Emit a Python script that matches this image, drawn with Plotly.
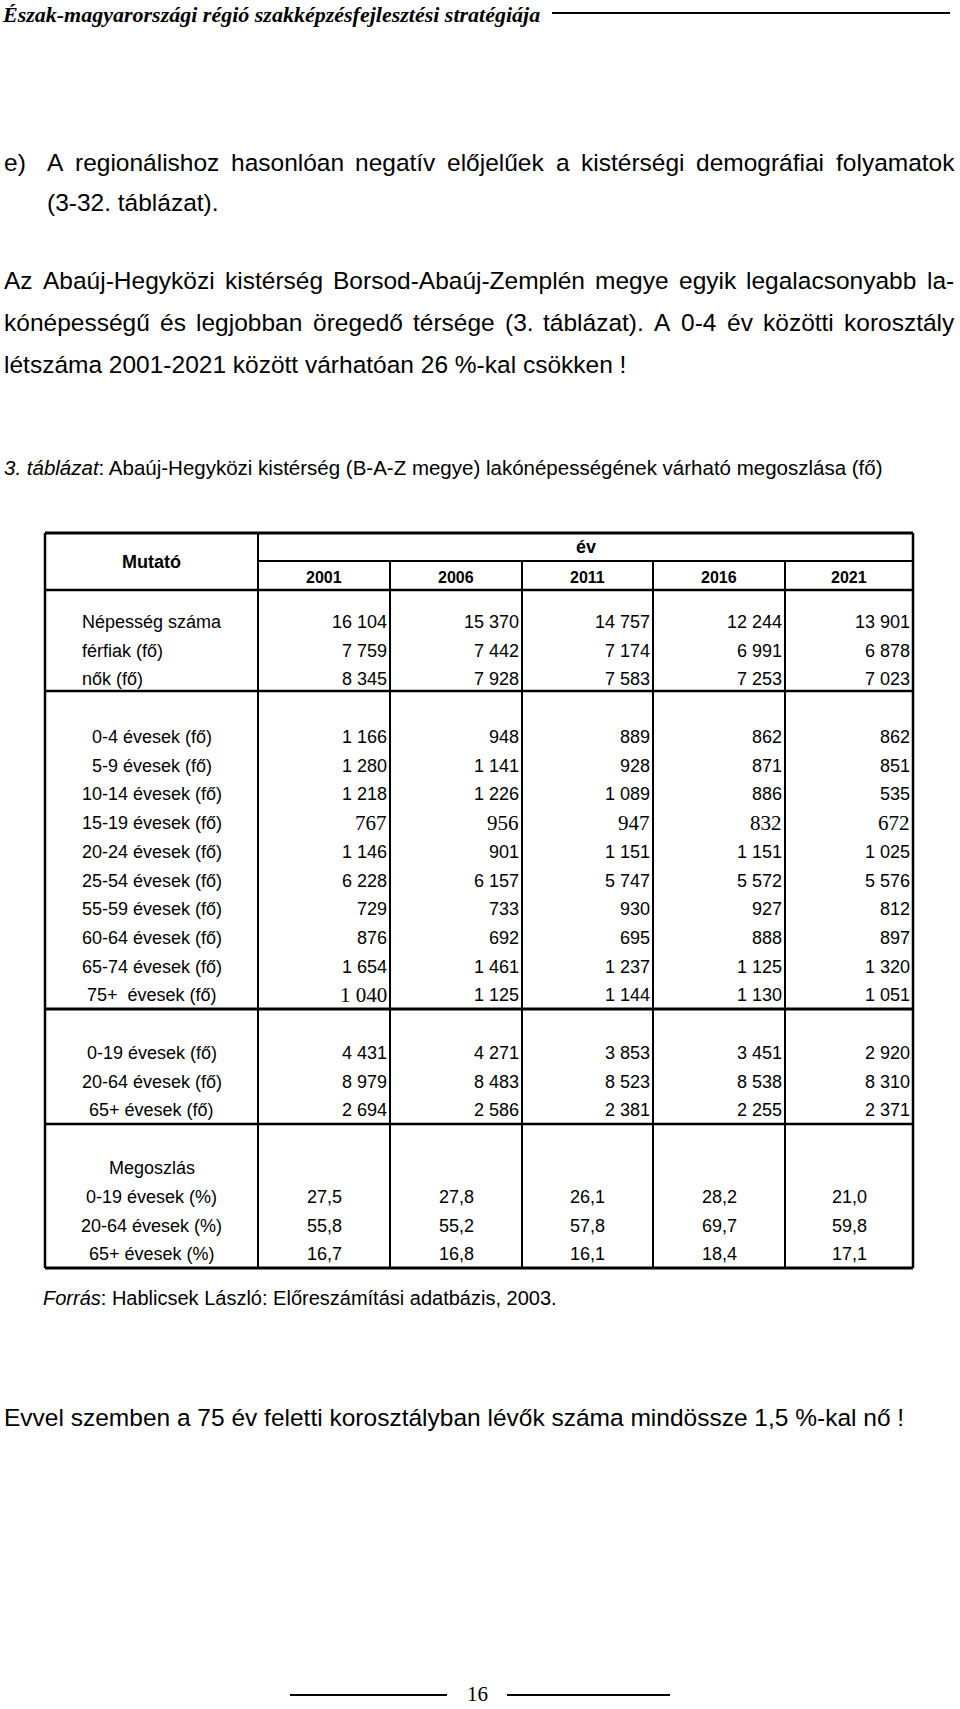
import plotly.graph_objects as go

# page texts
header_text = "Észak-magyarországi régió szakképzésfejlesztési stratégiája"
para_marker = "e)"
para_lines = [
    "A regionálishoz hasonlóan negatív előjelűek a kistérségi demográfiai folyamatok",
    "(3-32. táblázat).",
    "Az Abaúj-Hegyközi kistérség Borsod-Abaúj-Zemplén megye egyik legalacsonyabb la-",
    "kónépességű és legjobban öregedő térsége (3. táblázat). A 0-4 év közötti korosztály",
    "létszáma 2001-2021 között várhatóan 26 %-kal csökken !",
]
para_justified = [True, False, True, True, False]
caption = "<i>3. táblázat</i>: Abaúj-Hegyközi kistérség (B-A-Z megye) lakónépességének várható megoszlása (fő)"
source = "<i>Forrás</i>: Hablicsek László: Előreszámítási adatbázis, 2003."
closing = "Evvel szemben a 75 év feletti korosztályban lévők száma mindössze 1,5 %-kal nő !"
page_no = "16"

# table data
years = ["2001", "2006", "2011", "2016", "2021"]

pop_labels = ["Népesség száma", "férfiak (fő)", "nők (fő)"]
pop_values = [
    [16104, 15370, 14757, 12244, 13901],
    [7759, 7442, 7174, 6991, 6878],
    [8345, 7928, 7583, 7253, 7023],
]

age_labels = ["0-4 évesek (fő)", "5-9 évesek (fő)", "10-14 évesek (fő)", "15-19 évesek (fő)",
              "20-24 évesek (fő)", "25-54 évesek (fő)", "55-59 évesek (fő)", "60-64 évesek (fő)",
              "65-74 évesek (fő)", "75+\u00a0 évesek (fő)"]
age_values = [
    [1166, 948, 889, 862, 862],
    [1280, 1141, 928, 871, 851],
    [1218, 1226, 1089, 886, 535],
    [767, 956, 947, 832, 672],
    [1146, 901, 1151, 1151, 1025],
    [6228, 6157, 5747, 5572, 5576],
    [729, 733, 930, 927, 812],
    [876, 692, 695, 888, 897],
    [1654, 1461, 1237, 1125, 1320],
    [1040, 1125, 1144, 1130, 1051],
]

broad_labels = ["0-19 évesek (fő)", "20-64 évesek (fő)", "65+ évesek (fő)"]
broad_values = [
    [4431, 4271, 3853, 3451, 2920],
    [8979, 8483, 8523, 8538, 8310],
    [2694, 2586, 2381, 2255, 2371],
]

share_title = "Megoszlás"
share_labels = ["0-19 évesek (%)", "20-64 évesek (%)", "65+ évesek (%)"]
share_values = [
    [27.5, 27.8, 26.1, 28.2, 21.0],
    [55.8, 55.2, 57.8, 69.7, 59.8],
    [16.7, 16.8, 16.1, 18.4, 17.1],
]

# cells typeset in serif in the original
serif_cells = {("age", 3, 0), ("age", 3, 1), ("age", 3, 2), ("age", 3, 3), ("age", 3, 4), ("age", 9, 0)}

SANS = "Liberation Sans, Arial, sans-serif"
SERIF = "Liberation Serif, Times New Roman, serif"

# rough Arial advance widths (1/1000 em), used to justify paragraph lines
_w = {" ": 278, "!": 278, "%": 889, "(": 333, ")": 333, ",": 278, "-": 333, ".": 278, ":": 278}
_w.update({d: 556 for d in "0123456789"})
_w.update(dict(zip("ABCDEFGHIJKLMNOPQRSTUVWXYZ",
                   [667, 667, 722, 722, 667, 611, 778, 722, 278, 500, 667, 556, 833,
                    722, 778, 667, 778, 722, 667, 611, 722, 667, 944, 667, 667, 611])))
_w.update(dict(zip("abcdefghijklmnopqrstuvwxyz",
                   [556, 556, 500, 556, 556, 278, 556, 556, 222, 222, 500, 222, 833,
                    556, 556, 556, 556, 333, 500, 278, 556, 500, 722, 500, 500, 500])))
_w.update({"á": 556, "é": 556, "í": 278, "ó": 556, "ö": 556, "ő": 556, "ú": 556, "ü": 556, "ű": 556})


def text_width(s, size):
    return sum(_w.get(ch, 556) for ch in s) * size / 1000.0


W, H = 960, 1709
fig = go.Figure()
ann = []
shapes = []


def txt(x, y, s, size, anchor="left", family=SANS, bold=False):
    if bold:
        s = "<b>" + s + "</b>"
    ann.append(dict(x=x, y=y, text=s, xref="x", yref="y", showarrow=False,
                    xanchor=anchor, yanchor="middle", borderpad=0, borderwidth=0,
                    font=dict(family=family, size=size, color="black")))


def line(x0, y0, x1, y1, w=2):
    shapes.append(dict(type="line", x0=x0, y0=y0, x1=x1, y1=y1, xref="x", yref="y",
                       line=dict(color="black", width=w)))


def fmt(v):
    return f"{v:,}".replace(",", " ")


# header
ann.append(dict(x=1, y=14, text="<b><i>" + header_text + "</i></b>", xref="x", yref="y",
                showarrow=False, xanchor="left", yanchor="middle", borderpad=0,
                font=dict(family=SERIF, size=22, color="black")))
line(552, 13, 950, 13, 2)

# paragraph
PARA_SIZE = 24.5
para_y = [162, 202, 280, 322, 364]
para_x = [47, 47, 4, 4, 4]
para_right = 954
txt(4, para_y[0], para_marker, PARA_SIZE)
for s, x, y, just in zip(para_lines, para_x, para_y, para_justified):
    if not just:
        txt(x, y, s, PARA_SIZE)
        continue
    words = s.split()
    total = sum(text_width(wd, PARA_SIZE) for wd in words)
    gap = (para_right - x - total) / (len(words) - 1)
    pos = x
    for wd in words:
        txt(pos, y, wd, PARA_SIZE)
        pos += text_width(wd, PARA_SIZE) + gap

txt(4, 467, caption, 20.5)

# table geometry
left, right = 45, 913
col_edges = [258, 390, 522, 653, 785, 913]
top, bottom = 533, 1268
label_c = (left + col_edges[0]) / 2

line(left, top, right, top, 3)
line(left, bottom, right, bottom, 3)
line(left, top, left, bottom, 2.5)
line(right, top, right, bottom, 2.5)
line(col_edges[0], top, col_edges[0], bottom, 2)
for xe in col_edges[1:-1]:
    line(xe, 561, xe, bottom, 2)
line(col_edges[0], 561, right, 561, 2)
for yy, w in [(590, 2.5), (691, 2.5), (1009, 3), (1124, 2.5)]:
    line(left, yy, right, yy, w)

txt(label_c, 562, "Mutató", 18, "center", bold=True)
txt((col_edges[0] + right) / 2, 547, "év", 18, "center", bold=True)
for i, yr in enumerate(years):
    txt((col_edges[i] + col_edges[i + 1]) / 2, 577, yr, 16, "center", bold=True)

step = 28.7


def block(labels, values, y0, key, anchor_label):
    for r, (lab, row) in enumerate(zip(labels, values)):
        y = y0 + r * step
        if anchor_label == "left":
            txt(82, y, lab, 18, "left")
        else:
            txt(label_c, y, lab, 18, "center")
        for c, v in enumerate(row):
            if (key, r, c) in serif_cells:
                txt(col_edges[c + 1] - 3, y, fmt(v), 21, "right", family=SERIF)
            else:
                txt(col_edges[c + 1] - 3, y, fmt(v), 18, "right")


block(pop_labels, pop_values, 622, "pop", "left")
block(age_labels, age_values, 737, "age", "center")
block(broad_labels, broad_values, 1053, "broad", "center")

txt(label_c, 1168, share_title, 18, "center")
for r, (lab, row) in enumerate(zip(share_labels, share_values)):
    y = 1197 + r * step
    txt(label_c, y, lab, 18, "center")
    for c, v in enumerate(row):
        txt((col_edges[c] + col_edges[c + 1]) / 2, y, f"{v:.1f}".replace(".", ","), 18, "center")

txt(43, 1298, source, 20)
txt(4, 1417, closing, 24.5)

# footer
line(290, 1695, 447, 1695, 2)
line(507, 1695, 670, 1695, 2)
txt(477, 1694, page_no, 21, "center", family=SERIF)

fig.update_layout(
    width=W, height=H, margin=dict(l=0, r=0, t=0, b=0),
    paper_bgcolor="white", plot_bgcolor="white",
    xaxis=dict(range=[0, W], visible=False, fixedrange=True),
    yaxis=dict(range=[H, 0], visible=False, fixedrange=True),
    annotations=ann, shapes=shapes, showlegend=False,
)
fig.write_html("out.html", config={"displayModeBar": False},
               post_script="document.body.style.margin='0px';")
